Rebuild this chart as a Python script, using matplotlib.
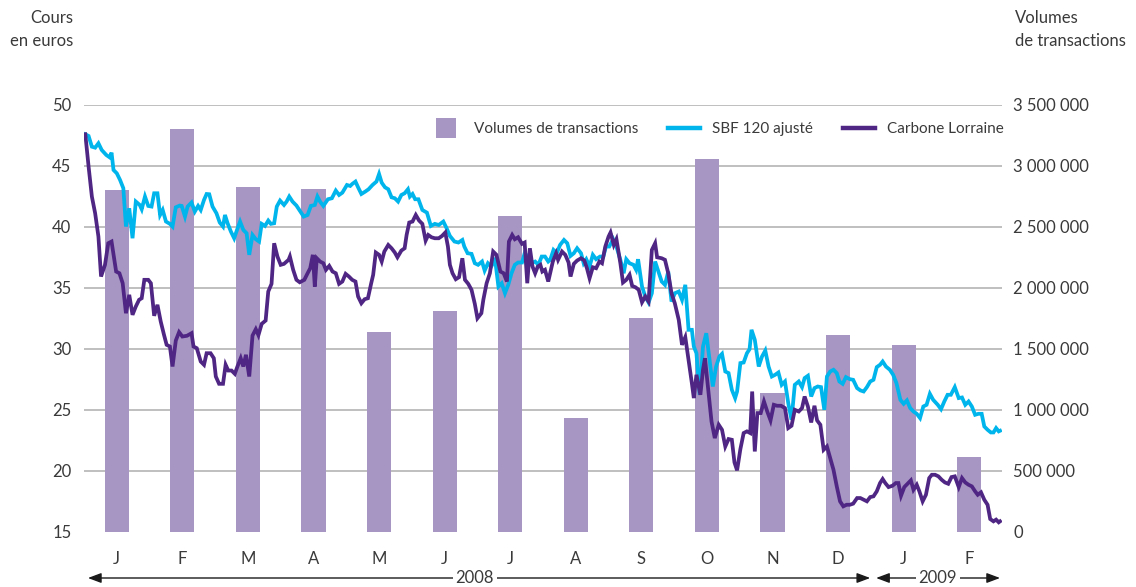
import matplotlib
matplotlib.use("Agg")
import matplotlib.pyplot as plt
from matplotlib.lines import Line2D

plt.rcParams['font.family'] = ['Lato', 'DejaVu Sans']

# ---------------- data ----------------
months = ['J', 'F', 'M', 'A', 'M', 'J', 'J', 'A', 'S', 'O', 'N', 'D', 'J', 'F']
volumes = [2800000, 3300000, 2830000, 2810000, 1640000, 1810000, 2590000,
           930000, 1750000, 3060000, 1140000, 1610000, 1530000, 615000]

# time in months elapsed since 1 Jan 2008
sbf_t = [0.02, 0.07, 0.12, 0.17, 0.22, 0.27, 0.34, 0.39, 0.42, 0.45, 0.50, 0.55, 0.60, 0.64,
         0.69, 0.74, 0.79, 0.85, 0.88, 0.93, 0.98, 1.03, 1.07, 1.12, 1.16, 1.20, 1.25, 1.31,
         1.35, 1.40, 1.46, 1.49, 1.54, 1.58, 1.64, 1.69, 1.74, 1.78, 1.83, 1.87, 1.91, 1.96,
         2.02, 2.07, 2.12, 2.15, 2.19, 2.24, 2.29, 2.33, 2.38, 2.43, 2.48, 2.52, 2.57, 2.62,
         2.67, 2.71, 2.76, 2.81, 2.85, 2.90, 2.94, 2.99, 3.05, 3.09, 3.13, 3.18, 3.24, 3.29,
         3.35, 3.41, 3.46, 3.52, 3.56, 3.60, 3.65, 3.72, 3.78, 3.84, 3.89, 3.94, 4.01, 4.06,
         4.09, 4.14, 4.18, 4.23, 4.29, 4.34, 4.40, 4.46, 4.50, 4.54, 4.59, 4.64, 4.69, 4.74,
         4.79, 4.84, 4.89, 4.94, 4.97, 5.01, 5.05, 5.10, 5.16, 5.23, 5.29, 5.35, 5.41, 5.48,
         5.53, 5.58, 5.65, 5.71, 5.77, 5.80, 5.85, 5.91, 5.96, 6.01, 6.07, 6.11, 6.16, 6.21,
         6.27, 6.32, 6.37, 6.42, 6.47, 6.52, 6.57, 6.62, 6.68, 6.72, 6.77, 6.82, 6.88, 6.93,
         6.98, 7.03, 7.08, 7.11, 7.16, 7.21, 7.26, 7.32, 7.37, 7.42, 7.47, 7.52, 7.58, 7.62,
         7.66, 7.71, 7.76, 7.81, 7.87, 7.92, 7.96, 8.01, 8.07, 8.12, 8.18, 8.23, 8.27, 8.32,
         8.38, 8.42, 8.45, 8.51, 8.56, 8.61, 8.66, 8.71, 8.76, 8.81, 8.86, 8.91, 8.96, 9.01,
         9.07, 9.12, 9.17, 9.22, 9.27, 9.30, 9.34, 9.39, 9.44, 9.49, 9.54, 9.59, 9.64, 9.69,
         9.73, 9.78, 9.83, 9.88, 9.93, 9.96, 10.01, 10.06, 10.11, 10.15, 10.18, 10.23, 10.29,
         10.34, 10.39, 10.44, 10.49, 10.54, 10.59, 10.64, 10.69, 10.74, 10.79, 10.84, 10.90,
         10.95, 10.99, 11.04, 11.09, 11.14, 11.19, 11.24, 11.29, 11.33, 11.38, 11.43, 11.48,
         11.52, 11.57, 11.62, 11.68, 11.73, 11.79, 11.84, 11.89, 11.94, 11.99, 12.04, 12.09,
         12.14, 12.18, 12.23, 12.29, 12.34, 12.39, 12.45, 12.50, 12.55, 12.60, 12.65, 12.70,
         12.75, 12.80, 12.85, 12.90, 12.95, 13.02, 13.07, 13.12, 13.17, 13.22, 13.28, 13.34,
         13.39, 13.44, 13.49, 13.54, 13.59, 13.64, 13.69, 13.73, 13.78, 13.83, 13.87, 13.91,
         13.95, 13.97]
sbf_v = [47.60, 47.46, 46.58, 46.50, 46.86, 46.31, 45.90, 45.71, 46.09, 44.67, 44.40, 43.85,
         43.17, 40.03, 41.53, 39.07, 42.08, 41.80, 41.45, 42.49, 41.72, 41.67, 42.76, 42.76,
         40.98, 41.39, 40.44, 40.25, 40.03, 41.61, 41.75, 41.72, 40.85, 41.67, 42.00, 41.26,
         41.72, 41.39, 42.21, 42.70, 42.68, 41.67, 41.12, 40.36, 40.03, 40.98, 40.30, 39.62,
         39.07, 39.70, 40.44, 39.75, 39.48, 37.71, 39.34, 38.99, 38.80, 40.25, 40.08, 40.52,
         40.25, 40.30, 41.67, 42.16, 41.80, 42.08, 42.49, 42.08, 41.75, 41.34, 40.85, 40.98,
         41.72, 41.80, 42.49, 42.08, 41.72, 42.27, 42.35, 42.98, 42.62, 42.81, 43.44, 43.36,
         43.52, 43.72, 43.25, 42.70, 42.90, 43.09, 43.44, 43.72, 44.34, 43.63, 43.25, 43.09,
         42.43, 42.35, 42.08, 42.62, 42.76, 43.09, 42.49, 42.70, 42.27, 42.27, 41.39, 41.17,
         40.08, 40.25, 40.16, 40.44, 39.89, 39.26, 38.80, 38.72, 38.93, 38.39, 37.84, 37.79,
         37.02, 36.89, 37.16, 36.42, 37.02, 36.75, 37.30, 35.11, 35.38, 34.56, 35.25, 36.20,
         36.89, 37.08, 37.08, 37.84, 37.57, 37.02, 37.16, 36.89, 37.57, 37.57, 37.16, 37.30,
         38.11, 37.84, 38.52, 38.93, 38.66, 37.62, 37.84, 38.25, 37.84, 37.02, 37.35, 36.75,
         37.71, 37.35, 37.57, 37.57, 38.39, 38.39, 38.99, 38.39, 37.30, 36.20, 37.35, 37.02,
         36.89, 36.48, 37.35, 35.11, 34.29, 33.80, 34.56, 37.16, 36.34, 35.52, 35.25, 36.34,
         33.88, 34.56, 34.70, 34.02, 35.25, 31.56, 31.56, 30.19, 29.64, 26.23, 30.19, 31.28,
         29.10, 26.91, 28.55, 29.37, 29.59, 28.14, 28.01, 26.64, 25.96, 26.50, 28.83, 28.88,
         29.64, 29.97, 31.56, 30.74, 28.55, 29.37, 29.86, 28.55, 27.73, 27.87, 28.06, 27.05,
         27.32, 25.55, 24.18, 27.05, 27.32, 26.86, 27.60, 27.79, 26.09, 26.78, 26.91, 26.86,
         25.00, 27.73, 28.14, 28.28, 28.01, 27.32, 27.13, 27.68, 27.51, 27.46, 26.78, 26.59,
         26.50, 26.86, 27.32, 27.46, 28.50, 28.69, 28.96, 28.55, 28.28, 27.87, 27.19, 25.82,
         25.49, 25.77, 25.14, 24.86, 24.67, 24.32, 25.27, 25.41, 26.31, 25.82, 25.41, 25.05,
         25.68, 26.23, 26.23, 26.86, 25.96, 26.01, 25.41, 25.68, 25.27, 24.59, 24.67, 24.67,
         23.63, 23.36, 23.14, 23.14, 23.50, 23.23, 23.28]

cl_t = [0.02, 0.07, 0.12, 0.17, 0.22, 0.26, 0.32, 0.37, 0.42, 0.49, 0.54, 0.59, 0.64, 0.69,
        0.74, 0.79, 0.84, 0.88, 0.92, 0.98, 1.02, 1.07, 1.12, 1.17, 1.22, 1.26, 1.31, 1.35,
        1.40, 1.45, 1.50, 1.57, 1.64, 1.67, 1.72, 1.78, 1.83, 1.87, 1.93, 1.98, 2.01, 2.06,
        2.12, 2.16, 2.20, 2.25, 2.30, 2.34, 2.39, 2.43, 2.47, 2.52, 2.57, 2.62, 2.66, 2.71,
        2.77, 2.81, 2.86, 2.90, 2.95, 3.00, 3.05, 3.12, 3.14, 3.19, 3.24, 3.29, 3.36, 3.41,
        3.45, 3.49, 3.52, 3.55, 3.60, 3.65, 3.69, 3.74, 3.79, 3.84, 3.89, 3.94, 3.99, 4.04,
        4.09, 4.14, 4.18, 4.23, 4.28, 4.33, 4.38, 4.41, 4.45, 4.50, 4.54, 4.58, 4.64, 4.69,
        4.74, 4.78, 4.84, 4.89, 4.92, 4.96, 5.01, 5.06, 5.11, 5.16, 5.21, 5.25, 5.30, 5.35,
        5.41, 5.46, 5.51, 5.55, 5.58, 5.62, 5.67, 5.72, 5.77, 5.81, 5.86, 5.91, 5.96, 6.00,
        6.06, 6.09, 6.14, 6.19, 6.24, 6.29, 6.35, 6.40, 6.45, 6.48, 6.53, 6.57, 6.62, 6.68,
        6.72, 6.76, 6.80, 6.84, 6.88, 6.92, 6.96, 6.99, 7.03, 7.08, 7.15, 7.20, 7.23, 7.29,
        7.34, 7.39, 7.42, 7.47, 7.52, 7.58, 7.63, 7.67, 7.71, 7.76, 7.81, 7.86, 7.90, 7.95,
        8.00, 8.03, 8.08, 8.12, 8.18, 8.22, 8.27, 8.32, 8.36, 8.41, 8.46, 8.51, 8.56, 8.61,
        8.66, 8.71, 8.74, 8.81, 8.86, 8.91, 8.96, 9.01, 9.07, 9.12, 9.17, 9.22, 9.27, 9.30,
        9.34, 9.40, 9.44, 9.47, 9.52, 9.57, 9.62, 9.68, 9.73, 9.78, 9.83, 9.88, 9.92, 9.96,
        10.01, 10.06, 10.11, 10.16, 10.19, 10.23, 10.27, 10.32, 10.37, 10.42, 10.47, 10.52,
        10.57, 10.63, 10.69, 10.74, 10.79, 10.84, 10.90, 10.95, 10.99, 11.04, 11.09, 11.14,
        11.18, 11.23, 11.28, 11.33, 11.38, 11.43, 11.48, 11.53, 11.58, 11.63, 11.68, 11.73,
        11.79, 11.84, 11.89, 11.94, 11.99, 12.04, 12.09, 12.14, 12.18, 12.22, 12.27, 12.33,
        12.38, 12.42, 12.46, 12.51, 12.56, 12.61, 12.65, 12.70, 12.74, 12.79, 12.84, 12.89,
        12.93, 12.98, 13.03, 13.08, 13.13, 13.18, 13.23, 13.28, 13.34, 13.39, 13.44, 13.49,
        13.54, 13.59, 13.63, 13.68, 13.73, 13.78, 13.82, 13.87, 13.91, 13.95, 13.97]
cl_v = [47.60, 44.95, 42.49, 41.12, 39.21, 35.93, 36.89, 38.66, 38.80, 36.34, 36.20, 35.38,
        32.92, 34.43, 32.79, 33.47, 34.02, 34.15, 35.66, 35.66, 35.38, 32.71, 33.61, 32.24,
        31.15, 30.33, 30.19, 28.55, 30.68, 31.37, 31.01, 31.07, 31.28, 30.19, 30.05, 28.96,
        28.69, 29.64, 29.64, 29.23, 27.73, 27.13, 27.13, 28.69, 28.22, 28.22, 27.95, 28.55,
        29.23, 28.55, 29.51, 27.73, 31.09, 31.61, 31.12, 32.05, 32.32, 34.70, 35.33, 38.66,
        37.57, 36.89, 36.97, 37.30, 37.57, 36.48, 35.66, 35.46, 35.66, 36.20, 36.61, 37.71,
        35.11, 37.43, 37.16, 37.02, 36.48, 36.80, 36.34, 36.20, 35.33, 35.52, 36.15, 35.93,
        35.66, 35.52, 34.29, 33.74, 34.07, 34.15, 35.38, 36.07, 37.90, 37.71, 37.16, 37.98,
        38.52, 38.25, 37.90, 37.51, 38.06, 38.25, 39.34, 40.36, 40.44, 40.98, 40.52, 40.25,
        38.88, 39.34, 39.15, 39.07, 39.07, 39.26, 39.54, 38.39, 36.89, 36.20, 35.71, 35.88,
        37.43, 35.66, 35.33, 34.84, 33.69, 32.51, 32.92, 34.02, 35.38, 36.20, 37.98, 37.71,
        36.34, 36.20, 35.52, 38.80, 39.34, 38.99, 39.15, 38.61, 38.72, 35.38, 38.25, 36.75,
        36.20, 36.75, 36.89, 36.34, 36.48, 35.52, 37.16, 37.84, 37.30, 37.98, 37.71, 37.08,
        35.93, 36.97, 37.24, 37.43, 37.24, 36.61, 35.79, 36.69, 36.61, 37.16, 37.02, 38.39,
        39.21, 39.54, 38.52, 38.99, 37.02, 35.44, 35.66, 36.07, 35.16, 35.05, 34.84, 33.82,
        34.29, 33.88, 38.11, 38.66, 37.51, 37.43, 37.30, 36.20, 34.56, 33.74, 32.38, 30.33,
        30.96, 29.10, 27.19, 25.96, 27.87, 26.23, 28.28, 29.23, 26.64, 24.04, 22.68, 23.77,
        23.36, 21.99, 22.60, 22.54, 20.68, 20.03, 21.77, 23.09, 23.23, 23.09, 26.50, 21.58,
        24.73, 24.73, 25.68, 24.86, 24.13, 25.41, 25.33, 25.33, 25.14, 23.50, 23.69, 25.00,
        24.86, 25.14, 26.09, 25.27, 23.96, 25.33, 24.13, 23.77, 21.72, 21.99, 21.04, 20.08,
        18.72, 17.49, 17.08, 17.21, 17.21, 17.30, 17.76, 17.76, 17.62, 17.49, 17.84, 17.90,
        18.31, 18.99, 19.32, 18.99, 18.66, 18.77, 18.99, 18.99, 17.95, 18.66, 18.93, 19.21,
        18.44, 18.85, 18.31, 17.49, 18.03, 19.40, 19.67, 19.67, 19.54, 19.26, 19.04, 18.93,
        19.48, 19.54, 18.66, 19.40, 19.04, 18.85, 18.72, 18.31, 18.03, 18.23, 17.62, 17.21,
        16.04, 15.85, 15.99, 15.77, 15.85]

price_ticks = [15, 20, 25, 30, 35, 40, 45, 50]
volume_ticks = [0, 500000, 1000000, 1500000, 2000000, 2500000, 3000000, 3500000]
volume_labels = ['0', '500 000', '1 000 000', '1 500 000', '2 000 000', '2 500 000',
                 '3 000 000', '3 500 000']

# ---------------- style ----------------
TXT = '#3a3a3a'
BAR = '#a795c3'
CYAN = '#00b5eb'
PURPLE = '#4f2683'
GRID = '#b4b4b4'
FS = 12
LFS = 11

W, H = 1136, 587
fig = plt.figure(figsize=(W / 100, H / 100), dpi=100)
left_px, right_px, top_px, bot_px = 84, 1002, 105, 531.7
axp = fig.add_axes([left_px / W, 1 - bot_px / H, (right_px - left_px) / W, (bot_px - top_px) / H])
axv = axp.twinx()

axp.set_zorder(2)
axv.set_zorder(1)
axp.patch.set_visible(False)

# volume bars + grid (behind the lines)
xpos = [i + 0.5 for i in range(len(months))]
axv.bar(xpos, volumes, width=0.37, color=BAR, zorder=2, label='Volumes de transactions')
axv.set_ylim(0, 3500000)
for v in volume_ticks[1:]:
    axv.axhline(v, color=GRID, lw=1.2, zorder=1)
axv.set_yticks(volume_ticks)
axv.set_yticklabels(volume_labels)

# price lines
axp.plot(sbf_t, sbf_v, color=CYAN, lw=2.7, solid_joinstyle='miter', label='SBF 120 ajusté')
axp.plot(cl_t, cl_v, color=PURPLE, lw=2.7, solid_joinstyle='miter', label='Carbone Lorraine')
axp.set_ylim(15, 50)
axp.set_yticks(price_ticks)
axp.set_xlim(0, 14)
axp.set_xticks(xpos)
axp.set_xticklabels(months)

for ax in (axp, axv):
    for s in ax.spines.values():
        s.set_visible(False)
axp.tick_params(axis='y', length=0, pad=9, labelsize=FS, labelcolor=TXT)
axp.tick_params(axis='x', length=0, pad=14, labelsize=FS, labelcolor=TXT)
axv.tick_params(axis='y', length=0, pad=8, labelsize=FS, labelcolor=TXT)

# axis titles
fig.text(73 / W, 1 - 10 / H, 'Cours\nen euros', ha='right', va='top', fontsize=FS,
         color=TXT, linespacing=1.5)
fig.text(1015 / W, 1 - 10 / H, 'Volumes\nde transactions', ha='left', va='top', fontsize=FS,
         color=TXT, linespacing=1.5)

# legend
handles = [Line2D([], [], ls='none', marker='s', markersize=15, color=BAR, markeredgewidth=0),
           Line2D([], [], color=CYAN, lw=3.2),
           Line2D([], [], color=PURPLE, lw=3.2)]
labels = ['Volumes de transactions', 'SBF 120 ajusté', 'Carbone Lorraine']
fs_px = LFS * 100 / 72
leg = fig.legend(handles, labels, loc='center left', bbox_to_anchor=(430 / W, 1 - 129 / H),
                 ncol=3, frameon=False, fontsize=LFS, borderpad=0, borderaxespad=0,
                 handlelength=32 / fs_px, handletextpad=12 / fs_px, columnspacing=30 / fs_px)
for t in leg.get_texts():
    t.set_color(TXT)

# year arrows
trans = axp.get_xaxis_transform()
ya = -(578 - bot_px) / (bot_px - top_px)
arrow_kw = dict(arrowstyle='<|-|>,head_length=0.8,head_width=0.3', color='#1a1a1a',
                lw=1.0, shrinkA=0, shrinkB=0, mutation_scale=10)
axp.annotate('', xy=(0.06, ya), xytext=(11.99, ya), xycoords=trans, textcoords=trans,
             arrowprops=arrow_kw, annotation_clip=False)
axp.annotate('', xy=(12.08, ya), xytext=(13.97, ya), xycoords=trans, textcoords=trans,
             arrowprops=arrow_kw, annotation_clip=False)
axp.text(5.96, ya, '2008', transform=trans, ha='center', va='center', fontsize=FS, color=TXT,
         bbox=dict(facecolor='white', edgecolor='none', pad=2), clip_on=False)
axp.text(13.02, ya, '2009', transform=trans, ha='center', va='center', fontsize=FS, color=TXT,
         bbox=dict(facecolor='white', edgecolor='none', pad=2), clip_on=False)

fig.savefig('out.png', dpi=100)
